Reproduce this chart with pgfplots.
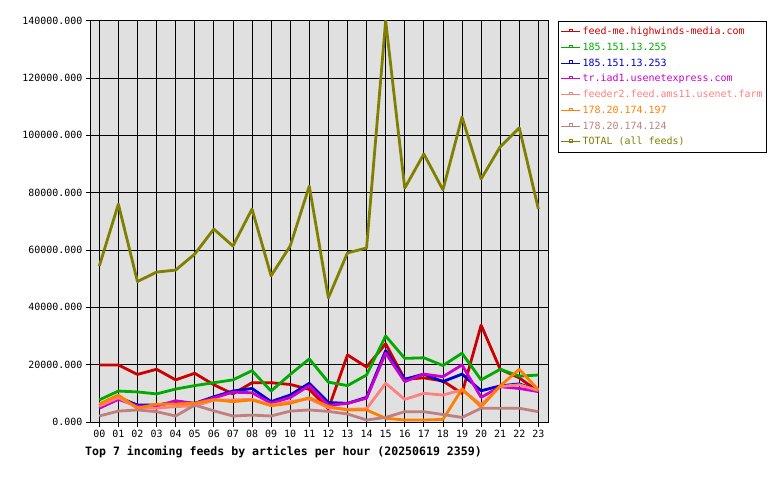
\documentclass[border=0pt]{standalone}
\usepackage{pgfplots}
\pgfplotsset{compat=1.18}
\usepackage{pgfplotstable}
\usepackage{fontspec}
\setmainfont{DejaVu Sans Mono}
\definecolor{cred}{HTML}{CC0000}
\definecolor{cgreen}{HTML}{00AA00}
\definecolor{cblue}{HTML}{0000CC}
\definecolor{cmag}{HTML}{CC00CC}
\definecolor{csalmon}{HTML}{FF8080}
\definecolor{corange}{HTML}{FF8000}
\definecolor{crosy}{HTML}{C08080}
\definecolor{colive}{HTML}{808000}
\definecolor{bggray}{HTML}{E0E0E0}

\pgfplotstableread{
h red green blue mag salmon orange rosy total
0  19900 7700  5600  4800  5500  6300  2100  54400
1  19900 10800 8600  7900  8500  9400  3800  76000
2  16600 10500 5900  5600  5000  4800  4200  49000
3  18400 9800  5900  5600  4800  6200  3600  52300
4  14700 11500 6900  7400  5400  6300  2100  53000
5  17000 12700 6500  6500  5600  6500  5900  58600
6  13000 13700 8800  8400  7600  7800  3900  67300
7  9800  14700 10800 10400 7700  7100  2100  61400
8  13700 17900 11700 10200 7900  7700  2400  74300
9  13700 10800 7100  6600  5900  5700  2100  51000
10 13100 16600 9400  8500  7100  6500  3800  61400
11 11400 22000 13500 12700 8100  8500  4200  82300
12 4600  13900 6800  5800  5000  5400  3700  43300
13 23400 12700 6500  6500  4400  4200  2800  59000
14 19200 16400 8600  8300  4600  4200  700   60700
15 27300 30000 24900 24000 13500 1300  1600  140000
16 14900 22200 14900 14100 7900  700   3600  81600
17 15400 22400 16700 16700 10000 700   3600  93500
18 14300 19700 14100 15800 9400  900   2600  81000
19 10000 24000 16700 19900 11200 11500 1600  106400
20 33800 14700 10900 8600  6000  5300  4800  84800
21 18400 18400 12600 12300 12400 12600 4800  96000
22 15400 16000 13300 11700 13000 18400 4800  102600
23 10600 16400 10900 10600 11000 11200 3600  74300
}\feeds

\begin{document}
\begin{tikzpicture}
\useasboundingbox (0bp,0bp) rectangle (780bp,-480bp);
\begin{axis}[
  at={(90.3bp,-422bp)}, anchor=south west,
  scale only axis, width=458.4bp, height=401.3bp,
  xmin=-0.47, xmax=23.54, ymin=0, ymax=140000,
  axis background/.style={fill=bggray},
  grid=major, major grid style={black, line width=0.8bp},
  xtick={0,...,23},
  xticklabels={00,01,02,03,04,05,06,07,08,09,10,11,12,13,14,15,16,17,18,19,20,21,22,23},
  ytick={0,20000,40000,60000,80000,100000,120000,140000},
  scaled y ticks=false,
  y tick label style={/pgf/number format/.cd, fixed, fixed zerofill, precision=3, 1000 sep={}},
  /pgf/number format/assume math mode=true,
  tick pos=left,
  tick align=outside, major tick length=4.5bp,
  tick style={black, line width=0.8bp},
  axis line style={black, line width=0.8bp},
  ticklabel style={font=\fontsize{10}{12}\selectfont},
  legend cell align=left,
  legend style={at={(1.021,1.0)}, anchor=north west, draw=black, line width=0.8bp,
    font=\fontsize{10}{12}\selectfont, row sep=2.8bp, inner xsep=2bp, inner ysep=4bp},
  legend image code/.code={
    \draw[#1, line width=0.9bp] (0bp,0bp) -- (19bp,0bp);
    \draw[#1, line width=0.7bp] (8bp,0bp) rectangle (11bp,2.5bp);
  },
  every axis plot/.append style={line width=2.8bp, mark=none, line join=round},
]
\addplot[color=cred] table[x=h,y=red]{\feeds};
\addlegendentry{\textcolor{cred}{feed-me.highwinds-media.com}}
\addplot[color=cgreen] table[x=h,y=green]{\feeds};
\addlegendentry{\textcolor{cgreen}{185.151.13.255}}
\addplot[color=cblue] table[x=h,y=blue]{\feeds};
\addlegendentry{\textcolor{cblue}{185.151.13.253}}
\addplot[color=cmag] table[x=h,y=mag]{\feeds};
\addlegendentry{\textcolor{cmag}{tr.iad1.usenetexpress.com}}
\addplot[color=csalmon] table[x=h,y=salmon]{\feeds};
\addlegendentry{\textcolor{csalmon}{feeder2.feed.ams11.usenet.farm}}
\addplot[color=corange] table[x=h,y=orange]{\feeds};
\addlegendentry{\textcolor{corange}{178.20.174.197}}
\addplot[color=crosy] table[x=h,y=rosy]{\feeds};
\addlegendentry{\textcolor{crosy}{178.20.174.124}}
\addplot[color=colive] table[x=h,y=total]{\feeds};
\addlegendentry{\textcolor{colive}{TOTAL (all feeds)}}
\end{axis}
\node[anchor=west, font=\bfseries\fontsize{11.6}{13}\selectfont, inner sep=0pt] at (85bp,-452.3bp)
  {Top 7 incoming feeds by articles per hour (20250619 2359)};
\end{tikzpicture}
\end{document}
